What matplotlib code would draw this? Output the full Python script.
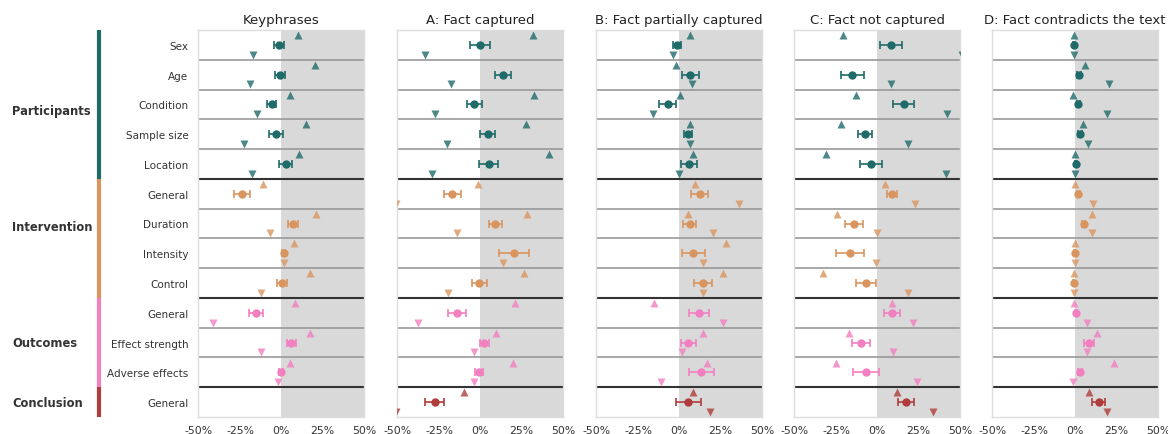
import numpy as np
import matplotlib
matplotlib.use("Agg")
import matplotlib.pyplot as plt
from matplotlib.lines import Line2D

# ── data (percent) ────────────────────────────────────────────
rows = ["Sex", "Age", "Condition", "Sample size", "Location",
        "General", "Duration", "Intensity", "Control",
        "General", "Effect strength", "Adverse effects",
        "General"]
groups = ["Participants", "Intervention", "Outcomes", "Conclusion"]
group_sizes = [5, 4, 3, 1]
group_colors = ["#1f6b69", "#d9955f", "#f27fc0", "#b03c3c"]

titles = ["Keyphrases", "A: Fact captured", "B: Fact partially captured",
          "C: Fact not captured", "D: Fact contradicts the text"]

nan = np.nan
kp_mean = [-1.6, -1, -6, -3.3, 2.6, -23.8, 7.1, 1.4, 0.2, -15.4, 6.1, -0.4, nan]
kp_err  = [3, 3, 2.7, 4, 3.8, 4.7, 3, 1, 3, 4.5, 2.8, 1.2, nan]
kp_up   = [10, 20.5, 5.5, 15, 10.6, -11, 20.9, 7.9, 17.5, 8.3, 17.5, 5.3, nan]
kp_down = [-17, -19.3, -15, -22.8, -17.9, -60, -6.9, 1.8, -12.4, -41.7, -12.4, -1.8, nan]

a_mean = [-0.4, 13.8, -3.6, 4.3, 5.1, -17, 9.1, 20.4, -0.6, -14.2, 2.4, -1, -27.7]
a_err  = [6.2, 4.8, 4.8, 4.4, 5.7, 5, 4.2, 8.9, 4.5, 5.2, 2.8, 2.5, 5.8]
a_up   = [31.8, 60, 32.4, 27.3, 41.3, -1.6, 28.5, 60, 26.1, 21, 9.7, 19.6, -9.7]
a_down = [-33.8, -18, -27.5, -20.4, -29.6, -51, -14.2, 13.8, -19.8, -37.9, -3.6, -4, -51]

b_mean = [-1.4, 6.7, -7.1, 5.3, 5.9, 12.2, 6.3, 8.5, 14.4, 11.8, 5.5, 13.2, 5.5]
b_err  = [2.4, 5.4, 5, 2.6, 5, 5.3, 4, 6.8, 5.4, 6.2, 4.4, 7.5, 7.5]
b_up   = [6.3, -1.8, 0.2, 6.3, 8.5, 9.7, 5.1, 28, 26.6, -15.6, 14, 16.6, 8.3]
b_down = [-3.9, 7.7, -16, 6.3, -0.2, 36.1, 20.3, 14.2, 14.2, 26.6, 1.6, -11.4, 18.5]

c_mean = [8.3, -15.2, 15.8, -7.5, -4, 8.7, -14.2, -16.8, -6.7, 8.9, -10.1, -6.9, 17.4]
c_err  = [6.5, 7, 6.5, 4.5, 6.7, 3, 5.2, 8.4, 6, 4.7, 5.5, 8.1, 4.9]
c_up   = [-20.6, -60, -12.8, -22.1, -31.4, 4.5, -24.7, -60, -33.2, 8.7, -17, -25.1, 11.9]
c_down = [51, 8.3, 42.1, 18.4, 41.7, 22.7, 0, -1, 18.6, 21.3, 9.3, 23.7, 33.8]

d_mean = [-1, 2.2, 1.8, 2.8, 0.6, 1.8, 4.9, -0.4, -1, 0.2, 8.5, 2.6, 14]
d_err  = [0.5, 1, 1, 1.2, 0.6, 1, 1.2, 0.3, 0.3, 0.6, 3, 1.2, 4.2]
d_up   = [-1, 5.7, -1.6, 4.7, -0.4, -0.4, 9.9, -0.4, -1, -0.6, 12.8, 23.5, 8.3]
d_down = [-1, 20.6, 19.4, 7.9, -0.4, 10.5, 9.9, -0.4, -1, 7.1, 6.9, -1.2, 19]

panels = [(kp_mean, kp_err, kp_up, kp_down),
          (a_mean, a_err, a_up, a_down),
          (b_mean, b_err, b_up, b_down),
          (c_mean, c_err, c_up, c_down),
          (d_mean, d_err, d_up, d_down)]

xticks = [-50, -25, 0, 25, 50]

# ── helpers ───────────────────────────────────────────────────
row_colors = []
for col, n in zip(group_colors, group_sizes):
    row_colors += [col] * n
group_ends = np.cumsum(group_sizes) - 1      # last row of each group

W, H = 1168, 435
fig = plt.figure(figsize=(W / 100, H / 100), dpi=100)
plt.rcParams["font.family"] = "DejaVu Sans"

top_px, bot_px = 31, 418
lefts = [198, 397, 596, 794, 992]
pw = 166
y = np.arange(len(rows))
off = 0.33

for k, (ax_left, (mean, err, up, down)) in enumerate(zip(lefts, panels)):
    ax = fig.add_axes([ax_left / W, 1 - bot_px / H, pw / W,
                       (bot_px - top_px) / H])
    ax.axvspan(0, 55, color="#d9d9d9", zorder=0, lw=0)
    for i in range(len(rows) - 1):
        dark = i in group_ends
        ax.axhline(i + 0.5, color="#333333" if dark else "#999999",
                   lw=1.5 if dark else 1.2, zorder=1)
    for i in y:
        c = row_colors[i]
        ax.errorbar(mean[i], i, xerr=err[i], fmt="o", color=c, ms=5,
                    elinewidth=1.2, capsize=3, capthick=1.2, zorder=4)
        ax.plot(up[i], i - off, marker="^", ls="", color=c, ms=6,
                alpha=0.8, mec="none", zorder=3)
        ax.plot(down[i], i + off, marker="v", ls="", color=c, ms=6,
                alpha=0.8, mec="none", zorder=3)

    ax.set_xlim(-50.5, 50)
    ax.set_ylim(len(rows) - 0.5, -0.5)
    ax.set_xticks(xticks)
    ax.set_xticklabels([f"{t}%" for t in xticks], fontsize=7.8,
                       color="#333333")
    ax.tick_params(axis="x", length=0, pad=6)
    ax.set_yticks(y)
    if k == 0:
        ax.set_yticklabels(rows, fontsize=7.5, color="#333333")
        ax.tick_params(axis="y", length=0, pad=7)
    else:
        ax.set_yticklabels([])
        ax.tick_params(axis="y", length=0)
    for s in ax.spines.values():
        s.set_color("#dddddd")
        s.set_linewidth(1)
    ax.set_title(titles[k], fontsize=9.5, color="#222222", pad=5)

# ── group labels and colored bars ─────────────────────────────
row_h = (bot_px - top_px) / len(rows)
label_rows = [2.2, 6.1, 10.0, 12.0]
start = 0
for g, n, col, lr in zip(groups, group_sizes, group_colors, label_rows):
    y0 = top_px + start * row_h
    y1 = top_px + (start + n) * row_h
    fig.add_artist(Line2D([99 / W, 99 / W], [1 - y0 / H, 1 - y1 / H],
                          color=col, lw=3, solid_capstyle="butt"))
    yl = top_px + (lr + 0.5) * row_h
    fig.text(12 / W, 1 - yl / H, g, fontsize=8.3, fontweight="bold",
             color="#333333", ha="left", va="center")
    start += n

fig.savefig("out.png", dpi=100)
